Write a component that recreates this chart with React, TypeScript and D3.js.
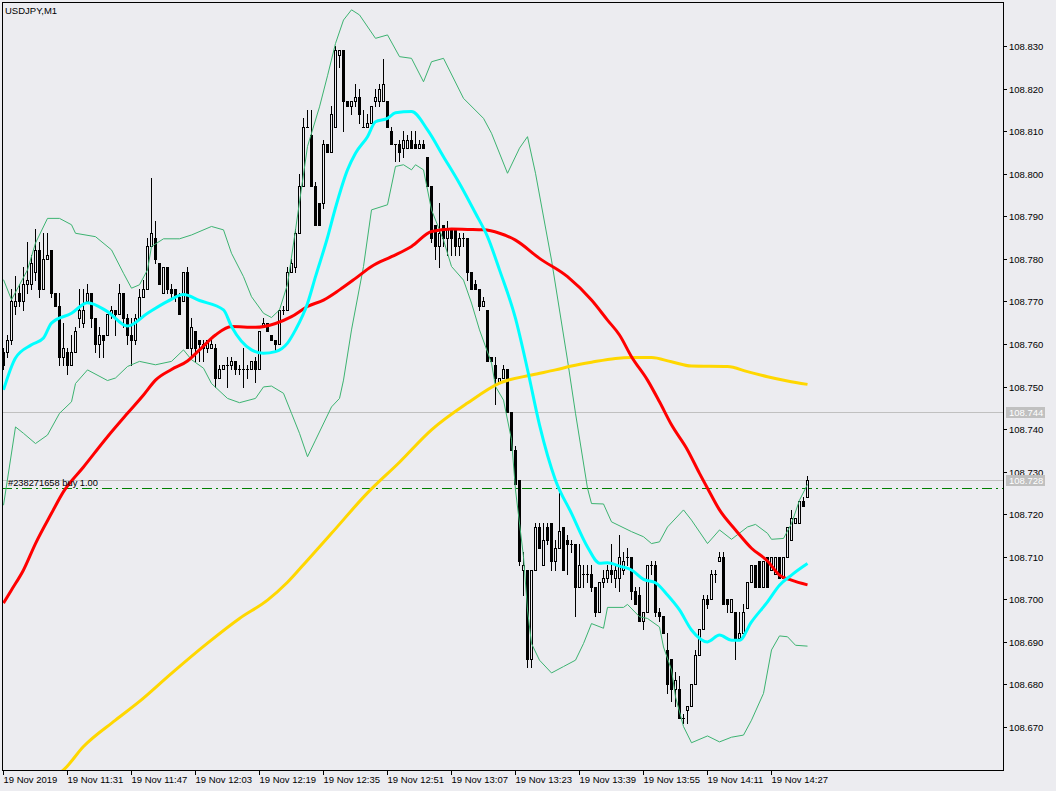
import React, { useEffect, useRef } from 'react';
import * as d3 from 'd3';

// USDJPY M1, 19 Nov 2019, bars from 11:15 to 14:36
const opens = [
  108.758, 108.758, 108.761, 108.769, 108.772, 108.770, 108.774, 108.774, 108.777, 108.782,
  108.773, 108.780, 108.782, 108.772, 108.769, 108.757, 108.758, 108.755, 108.758, 108.766,
  108.765, 108.770, 108.772, 108.766, 108.760, 108.762, 108.762, 108.767, 108.768, 108.767,
  108.772, 108.766, 108.762, 108.761, 108.766, 108.771, 108.773, 108.783, 108.785, 108.779,
  108.772, 108.778, 108.773, 108.773, 108.771, 108.770, 108.777, 108.759, 108.763, 108.761,
  108.760, 108.759, 108.759, 108.759, 108.752, 108.754, 108.755, 108.755, 108.756, 108.754,
  108.754, 108.754, 108.754, 108.756, 108.754, 108.764, 108.765, 108.762, 108.761, 108.760,
  108.768, 108.768, 108.777, 108.778, 108.786, 108.797, 108.811, 108.809, 108.797, 108.793,
  108.793, 108.807, 108.805, 108.811, 108.828, 108.829, 108.817, 108.816, 108.817, 108.818,
  108.811, 108.811, 108.812, 108.817, 108.817, 108.817, 108.817, 108.810, 108.807, 108.807,
  108.806, 108.806, 108.808, 108.807, 108.806, 108.807, 108.804, 108.797, 108.788, 108.783,
  108.788, 108.785, 108.787, 108.787, 108.783, 108.785, 108.785, 108.777, 108.774, 108.773,
  108.769, 108.768, 108.757, 108.755, 108.751, 108.752, 108.754, 108.744, 108.735, 108.728,
  108.707, 108.707, 108.686, 108.707, 108.717, 108.708, 108.717, 108.718, 108.709, 108.712,
  108.717, 108.714, 108.713, 108.713, 108.703, 108.706, 108.706, 108.706, 108.703, 108.697,
  108.704, 108.705, 108.707, 108.705, 108.705, 108.707, 108.710, 108.710, 108.702, 108.701,
  108.695, 108.697, 108.708, 108.708, 108.697, 108.696, 108.688, 108.686, 108.679, 108.679,
  108.672, 108.674, 108.675, 108.680, 108.687, 108.693, 108.700, 108.700, 108.706, 108.709,
  108.710, 108.700, 108.697, 108.697, 108.691, 108.692, 108.698, 108.704, 108.708, 108.709,
  108.703, 108.710, 108.707, 108.706, 108.710, 108.705, 108.710, 108.714, 108.718, 108.718,
  108.723, 108.724,
];
const highs = [
  108.759, 108.762, 108.773, 108.776, 108.774, 108.778, 108.784, 108.781, 108.787, 108.784,
  108.786, 108.786, 108.782, 108.772, 108.772, 108.765, 108.759, 108.762, 108.764, 108.773,
  108.773, 108.774, 108.772, 108.766, 108.764, 108.762, 108.767, 108.769, 108.768, 108.774,
  108.772, 108.767, 108.766, 108.767, 108.773, 108.775, 108.785, 108.799, 108.789, 108.779,
  108.778, 108.778, 108.774, 108.773, 108.772, 108.777, 108.778, 108.766, 108.763, 108.761,
  108.761, 108.761, 108.761, 108.760, 108.755, 108.755, 108.757, 108.757, 108.756, 108.755,
  108.759, 108.755, 108.756, 108.757, 108.763, 108.766, 108.765, 108.762, 108.761, 108.768,
  108.769, 108.778, 108.780, 108.787, 108.800, 108.813, 108.815, 108.815, 108.798, 108.793,
  108.808, 108.807, 108.816, 108.830, 108.829, 108.829, 108.817, 108.817, 108.821, 108.820,
  108.815, 108.814, 108.816, 108.820, 108.821, 108.827, 108.817, 108.811, 108.807, 108.808,
  108.810, 108.809, 108.810, 108.810, 108.808, 108.808, 108.804, 108.797, 108.788, 108.793,
  108.788, 108.789, 108.787, 108.787, 108.786, 108.786, 108.785, 108.777, 108.775, 108.773,
  108.771, 108.768, 108.757, 108.757, 108.752, 108.755, 108.754, 108.744, 108.736, 108.728,
  108.711, 108.707, 108.707, 108.718, 108.718, 108.718, 108.718, 108.718, 108.714, 108.725,
  108.717, 108.715, 108.714, 108.713, 108.713, 108.708, 108.708, 108.708, 108.703, 108.704,
  108.707, 108.708, 108.713, 108.708, 108.715, 108.711, 108.712, 108.710, 108.703, 108.703,
  108.697, 108.708, 108.709, 108.709, 108.698, 108.696, 108.692, 108.686, 108.683, 108.682,
  108.673, 108.675, 108.680, 108.688, 108.693, 108.701, 108.701, 108.707, 108.707, 108.711,
  108.711, 108.700, 108.700, 108.697, 108.697, 108.699, 108.704, 108.708, 108.708, 108.709,
  108.709, 108.710, 108.710, 108.710, 108.710, 108.710, 108.717, 108.721, 108.719, 108.723,
  108.724, 108.729,
];
const lows = [
  108.754, 108.757, 108.760, 108.767, 108.769, 108.768, 108.772, 108.773, 108.775, 108.771,
  108.773, 108.780, 108.771, 108.769, 108.755, 108.755, 108.753, 108.755, 108.758, 108.764,
  108.764, 108.770, 108.764, 108.758, 108.757, 108.757, 108.762, 108.766, 108.762, 108.767,
  108.764, 108.760, 108.755, 108.760, 108.766, 108.771, 108.773, 108.783, 108.779, 108.774,
  108.772, 108.772, 108.771, 108.770, 108.767, 108.770, 108.759, 108.757, 108.756, 108.756,
  108.756, 108.758, 108.759, 108.750, 108.752, 108.754, 108.750, 108.754, 108.753, 108.753,
  108.750, 108.752, 108.754, 108.751, 108.754, 108.764, 108.763, 108.761, 108.758, 108.760,
  108.767, 108.768, 108.777, 108.777, 108.786, 108.797, 108.811, 108.797, 108.788, 108.788,
  108.792, 108.805, 108.805, 108.811, 108.825, 108.810, 108.816, 108.814, 108.816, 108.812,
  108.811, 108.811, 108.812, 108.816, 108.816, 108.817, 108.811, 108.807, 108.803, 108.803,
  108.804, 108.806, 108.806, 108.806, 108.806, 108.806, 108.797, 108.784, 108.780, 108.778,
  108.783, 108.781, 108.781, 108.781, 108.781, 108.783, 108.775, 108.773, 108.773, 108.768,
  108.769, 108.756, 108.756, 108.746, 108.751, 108.752, 108.744, 108.735, 108.727, 108.708,
  108.701, 108.684, 108.684, 108.707, 108.712, 108.708, 108.713, 108.707, 108.707, 108.712,
  108.707, 108.706, 108.711, 108.696, 108.703, 108.703, 108.704, 108.702, 108.696, 108.697,
  108.703, 108.704, 108.704, 108.703, 108.702, 108.706, 108.708, 108.700, 108.699, 108.695,
  108.693, 108.697, 108.706, 108.696, 108.695, 108.692, 108.678, 108.676, 108.675, 108.672,
  108.671, 108.671, 108.675, 108.680, 108.687, 108.693, 108.698, 108.700, 108.704, 108.709,
  108.699, 108.697, 108.697, 108.686, 108.691, 108.692, 108.698, 108.704, 108.703, 108.703,
  108.703, 108.703, 108.707, 108.706, 108.705, 108.705, 108.710, 108.714, 108.718, 108.718,
  108.722, 108.724,
];
const closes = [
  108.755, 108.761, 108.770, 108.770, 108.770, 108.774, 108.775, 108.779, 108.782, 108.773,
  108.780, 108.781, 108.772, 108.769, 108.757, 108.759, 108.755, 108.758, 108.763, 108.768,
  108.768, 108.772, 108.766, 108.760, 108.762, 108.761, 108.767, 108.768, 108.767, 108.772,
  108.766, 108.762, 108.761, 108.766, 108.771, 108.773, 108.783, 108.786, 108.780, 108.774,
  108.778, 108.773, 108.772, 108.771, 108.767, 108.777, 108.759, 108.764, 108.759, 108.760,
  108.759, 108.761, 108.760, 108.752, 108.754, 108.755, 108.755, 108.756, 108.754, 108.754,
  108.754, 108.754, 108.756, 108.754, 108.763, 108.765, 108.763, 108.761, 108.760, 108.768,
  108.768, 108.777, 108.779, 108.786, 108.797, 108.811, 108.811, 108.797, 108.788, 108.788,
  108.807, 108.805, 108.814, 108.829, 108.829, 108.817, 108.816, 108.817, 108.818, 108.814,
  108.811, 108.812, 108.816, 108.818, 108.820, 108.821, 108.811, 108.807, 108.807, 108.805,
  108.808, 108.808, 108.806, 108.806, 108.807, 108.806, 108.797, 108.785, 108.783, 108.786,
  108.785, 108.787, 108.785, 108.783, 108.785, 108.785, 108.777, 108.773, 108.773, 108.769,
  108.770, 108.756, 108.756, 108.752, 108.752, 108.754, 108.744, 108.735, 108.727, 108.709,
  108.708, 108.686, 108.707, 108.717, 108.712, 108.714, 108.714, 108.709, 108.712, 108.716,
  108.707, 108.713, 108.713, 108.703, 108.708, 108.706, 108.706, 108.703, 108.697, 108.704,
  108.705, 108.707, 108.706, 108.707, 108.710, 108.709, 108.710, 108.702, 108.699, 108.695,
  108.697, 108.708, 108.708, 108.697, 108.696, 108.692, 108.680, 108.679, 108.681, 108.672,
  108.672, 108.675, 108.680, 108.687, 108.693, 108.700, 108.699, 108.706, 108.706, 108.710,
  108.699, 108.699, 108.700, 108.691, 108.692, 108.697, 108.704, 108.708, 108.703, 108.703,
  108.709, 108.703, 108.710, 108.710, 108.705, 108.710, 108.717, 108.719, 108.719, 108.723,
  108.722, 108.728,
];

// indicator readings, [bar index] -> value
const fastMaBars = [0, 3, 7, 10, 12, 17, 21, 26, 31, 36, 41, 45, 49, 55, 57, 62, 65, 68, 71, 73, 76, 78, 81, 83, 86, 88, 91, 93, 96, 98, 102, 106, 110, 114, 118, 121, 124, 128, 131, 134, 138, 142, 146, 149, 151, 154, 157, 160, 163, 166, 169, 172, 176, 179, 182, 184, 187, 191, 194, 197, 201];
const fastMaVals = [108.7492, 108.7567, 108.7598, 108.7614, 108.7649, 108.7672, 108.7697, 108.7676, 108.7642, 108.7672, 108.7700, 108.7716, 108.7702, 108.7680, 108.7641, 108.7586, 108.7578, 108.7582, 108.7602, 108.7633, 108.7695, 108.7758, 108.7850, 108.7920, 108.8009, 108.8048, 108.8087, 108.8122, 108.8130, 108.8143, 108.8146, 108.8103, 108.8040, 108.7977, 108.7907, 108.7852, 108.7774, 108.7660, 108.7540, 108.7410, 108.7280, 108.7202, 108.7123, 108.7085, 108.7086, 108.7078, 108.7069, 108.7047, 108.7039, 108.7010, 108.6975, 108.6928, 108.6900, 108.6916, 108.6904, 108.6904, 108.6947, 108.6994, 108.7033, 108.7057, 108.7084];

const midMaBars = [0, 2, 5, 8, 12, 15, 20, 26, 31, 35, 38, 42, 46, 49, 53, 57, 63, 68, 72, 76, 80, 84, 88, 92, 97, 102, 107, 112, 116, 120, 124, 128, 134, 141, 147, 151, 154, 157, 161, 164, 167, 171, 174, 176, 179, 183, 187, 191, 194, 197, 201];
const midMaVals = [108.6991, 108.7022, 108.7069, 108.7131, 108.7202, 108.7253, 108.7311, 108.7382, 108.7437, 108.7480, 108.7515, 108.7540, 108.7560, 108.7586, 108.7621, 108.7641, 108.7639, 108.7648, 108.7664, 108.7688, 108.7703, 108.7727, 108.7754, 108.7782, 108.7805, 108.7829, 108.7864, 108.7870, 108.7869, 108.7868, 108.7860, 108.7844, 108.7801, 108.7758, 108.7703, 108.7656, 108.7621, 108.7570, 108.7515, 108.7464, 108.7410, 108.7351, 108.7296, 108.7261, 108.7210, 108.7163, 108.7120, 108.7090, 108.7057, 108.7045, 108.7034];

const slowMaBars = [13, 15, 20, 28, 34, 42, 51, 59, 66, 71, 76, 82, 91, 99, 107, 116, 124, 132, 138, 142, 147, 153, 157, 162, 167, 172, 181, 186, 191, 196, 201];
const slowMaVals = [108.6585, 108.6599, 108.6654, 108.6716, 108.6760, 108.6826, 108.6897, 108.6955, 108.6998, 108.7040, 108.7092, 108.7155, 108.7250, 108.7322, 108.7398, 108.7461, 108.7508, 108.7527, 108.7539, 108.7548, 108.7557, 108.7566, 108.7568, 108.7568, 108.7558, 108.7548, 108.7547, 108.7535, 108.7523, 108.7513, 108.7505];

const upperBandBars = [0, 2, 6, 8, 11, 14, 17, 18, 23, 27, 30, 32, 34, 36, 37, 40, 44, 47, 52, 55, 57, 60, 62, 65, 67, 69, 71, 73, 76, 79, 81, 83, 85, 87, 89, 93, 96, 99, 102, 105, 107, 110, 115, 120, 122, 126, 129, 131, 133, 137, 141, 143, 146, 147, 150, 152, 157, 160, 162, 164, 166, 170, 172, 176, 179, 182, 186, 188, 191, 192, 195, 197, 199, 201];
const upperBandVals = [108.7751, 108.7704, 108.7774, 108.7837, 108.7895, 108.7895, 108.7880, 108.7860, 108.7852, 108.7821, 108.7766, 108.7731, 108.7739, 108.7774, 108.7829, 108.7847, 108.7847, 108.7856, 108.7876, 108.7868, 108.7813, 108.7758, 108.7711, 108.7672, 108.7662, 108.7680, 108.7740, 108.7868, 108.8064, 108.8157, 108.8230, 108.8306, 108.8361, 108.8385, 108.8373, 108.8318, 108.8326, 108.8275, 108.8271, 108.8216, 108.8263, 108.8271, 108.8177, 108.8130, 108.8095, 108.8001, 108.8060, 108.8087, 108.8001, 108.7797, 108.7562, 108.7437, 108.7261, 108.7225, 108.7224, 108.7182, 108.7159, 108.7147, 108.7131, 108.7135, 108.7170, 108.7210, 108.7186, 108.7131, 108.7163, 108.7141, 108.7170, 108.7176, 108.7155, 108.7141, 108.7143, 108.7178, 108.7233, 108.7270];

const lowerBandBars = [0, 3, 5, 8, 11, 14, 17, 18, 21, 26, 28, 31, 34, 38, 42, 45, 47, 50, 52, 56, 59, 63, 65, 67, 70, 72, 74, 76, 78, 82, 84, 85, 87, 90, 92, 96, 98, 100, 102, 103, 105, 107, 110, 112, 115, 117, 119, 122, 123, 125, 127, 128, 130, 131, 132, 134, 137, 140, 143, 145, 147, 150, 151, 155, 156, 159, 161, 164, 165, 167, 168, 170, 172, 176, 179, 182, 185, 187, 190, 192, 194, 196, 198, 201];
const lowerBandVals = [108.7221, 108.7405, 108.7390, 108.7366, 108.7386, 108.7437, 108.7464, 108.7507, 108.7539, 108.7514, 108.7520, 108.7547, 108.7559, 108.7551, 108.7559, 108.7586, 108.7563, 108.7543, 108.7507, 108.7472, 108.7462, 108.7472, 108.7499, 108.7501, 108.7484, 108.7437, 108.7390, 108.7335, 108.7374, 108.7452, 108.7472, 108.7515, 108.7633, 108.7782, 108.7915, 108.7927, 108.8017, 108.8021, 108.8009, 108.8021, 108.8009, 108.7915, 108.7844, 108.7782, 108.7750, 108.7696, 108.7633, 108.7555, 108.7500, 108.7468, 108.7375, 108.7257, 108.7100, 108.6975, 108.6896, 108.6857, 108.6827, 108.6842, 108.6857, 108.6896, 108.6943, 108.6932, 108.6981, 108.6981, 108.6988, 108.6959, 108.6955, 108.6935, 108.6888, 108.6834, 108.6771, 108.6701, 108.6663, 108.6679, 108.6665, 108.6676, 108.6681, 108.6716, 108.6779, 108.6881, 108.6914, 108.6912, 108.6892, 108.6890];

const priceTicks = [108.67, 108.68, 108.69, 108.70, 108.71, 108.72, 108.73, 108.74, 108.75, 108.76, 108.77, 108.78, 108.79, 108.80, 108.81, 108.82, 108.83];
const timeLabels = ['19 Nov 2019', '19 Nov 11:31', '19 Nov 11:47', '19 Nov 12:03', '19 Nov 12:19', '19 Nov 12:35', '19 Nov 12:51', '19 Nov 13:07', '19 Nov 13:23', '19 Nov 13:39', '19 Nov 13:55', '19 Nov 14:11', '19 Nov 14:27'];
const barsPerLabel = 16;
const markedPrices = [108.744, 108.728];
const orderPrice = 108.7261;
const orderText = '#238271658 buy 1.00';
const title = 'USDJPY,M1';

const W = 1056, H = 791;
const L = 2, T = 2, R = 1003, B = 770;
const BG = '#ececf0';
const FONT = '"Liberation Sans", Arial, sans-serif';

export default function App() {
  const svgRef = useRef<SVGSVGElement>(null);

  function draw(elm: SVGSVGElement) {
    const svg = d3.select(elm);
    svg.selectAll('*').remove();

    const x = d3.scaleLinear().domain([0, 1]).range([3.5, 7.5]);
    const y = d3.scaleLinear().domain([108.67, 108.83]).range([727, 46]);
    const py = (p: number) => Math.round(y(p));
    const fmt = d3.format('.3f');

    svg.append('rect').attr('width', W).attr('height', H).attr('fill', BG);

    svg.append('defs').append('clipPath').attr('id', 'plotclip')
      .append('rect').attr('x', L + 1).attr('y', T + 1).attr('width', R - L - 1).attr('height', B - T - 1);

    const plot = svg.append('g').attr('clip-path', 'url(#plotclip)');

    // grey price lines
    markedPrices.forEach(p => {
      plot.append('line')
        .attr('x1', L).attr('x2', R)
        .attr('y1', py(p) + 0.5).attr('y2', py(p) + 0.5)
        .attr('stroke', '#c0c0c0').attr('shape-rendering', 'crispEdges');
    });

    // order line
    plot.append('line')
      .attr('x1', L).attr('x2', R)
      .attr('y1', py(orderPrice) + 0.5).attr('y2', py(orderPrice) + 0.5)
      .attr('stroke', '#008000').attr('stroke-dasharray', '10,4,2,4')
      .attr('shape-rendering', 'crispEdges');

    // candles
    const cg = plot.append('g').attr('shape-rendering', 'crispEdges');
    d3.range(opens.length).forEach(i => {
      const cx = x(i);
      cg.append('line')
        .attr('x1', cx).attr('x2', cx)
        .attr('y1', py(highs[i])).attr('y2', py(lows[i]) + 1)
        .attr('stroke', '#000');
      const yo = py(opens[i]), yc = py(closes[i]);
      if (yc < yo) {
        cg.append('rect')
          .attr('x', cx - 1).attr('y', yc + 0.5)
          .attr('width', 2).attr('height', yo - yc)
          .attr('fill', BG).attr('stroke', '#000');
      } else if (yc > yo) {
        cg.append('rect')
          .attr('x', cx - 1.5).attr('y', yo)
          .attr('width', 3).attr('height', yc - yo + 1)
          .attr('fill', '#000');
      } else {
        cg.append('line')
          .attr('x1', cx - 1.5).attr('x2', cx + 1.5)
          .attr('y1', yo + 0.5).attr('y2', yo + 0.5)
          .attr('stroke', '#000');
      }
    });

    // bollinger bands
    const bandLine = d3.line<[number, number]>().x(d => x(d[0])).y(d => y(d[1]));
    [[upperBandBars, upperBandVals], [lowerBandBars, lowerBandVals]].forEach(([b, v]) => {
      plot.append('path')
        .attr('d', bandLine(d3.zip(b, v) as [number, number][]))
        .attr('fill', 'none').attr('stroke', '#3cb371').attr('stroke-width', 1);
    });

    // moving averages
    const maLine = d3.line<[number, number]>().x(d => x(d[0])).y(d => y(d[1])).curve(d3.curveMonotoneX);
    const mas: [number[], number[], string][] = [
      [slowMaBars, slowMaVals, '#ffd700'],
      [midMaBars, midMaVals, '#ff0000'],
      [fastMaBars, fastMaVals, '#00ffff'],
    ];
    mas.forEach(([b, v, c]) => {
      plot.append('path')
        .attr('d', maLine(d3.zip(b, v) as [number, number][]))
        .attr('fill', 'none').attr('stroke', c).attr('stroke-width', 3)
        .attr('stroke-linejoin', 'round');
    });

    // order label
    svg.append('text')
      .attr('x', 8).attr('y', py(orderPrice) - 2)
      .attr('font-family', FONT).attr('font-size', '9.3px').attr('fill', '#000')
      .text(orderText);

    // frame
    svg.append('rect')
      .attr('x', L + 0.5).attr('y', T + 0.5)
      .attr('width', R - L).attr('height', B - T)
      .attr('fill', 'none').attr('stroke', '#000').attr('shape-rendering', 'crispEdges');

    // price axis
    const pa = svg.append('g').attr('font-family', FONT).attr('font-size', '9.5px');
    priceTicks.forEach(p => {
      const yy = py(p) + 0.5;
      pa.append('line').attr('x1', R).attr('x2', R + 4).attr('y1', yy).attr('y2', yy)
        .attr('stroke', '#000').attr('shape-rendering', 'crispEdges');
      pa.append('text').attr('x', R + 6).attr('y', yy + 3.5).attr('fill', '#000').text(fmt(p));
    });
    markedPrices.forEach(p => {
      const yy = py(p) + 0.5;
      pa.append('rect').attr('x', R + 3).attr('y', yy - 5.5).attr('width', 39).attr('height', 11)
        .attr('fill', '#c0c0c0');
      pa.append('text').attr('x', R + 6).attr('y', yy + 3.5).attr('fill', '#fff').text(fmt(p));
    });

    // time axis
    const ta = svg.append('g').attr('font-family', FONT).attr('font-size', '9.5px');
    timeLabels.forEach((t, k) => {
      const xx = x(k * barsPerLabel);
      ta.append('line').attr('x1', xx).attr('x2', xx).attr('y1', B).attr('y2', B + 5)
        .attr('stroke', '#000').attr('shape-rendering', 'crispEdges');
      ta.append('text').attr('x', xx).attr('y', B + 13).attr('fill', '#000').text(t);
    });

    // title
    svg.append('text')
      .attr('x', 5).attr('y', 14)
      .attr('font-family', FONT).attr('font-size', '9.5px').attr('fill', '#000')
      .text(title);
  }

  useEffect(() => {
    if (svgRef.current) {
      draw(svgRef.current);
    }
  }, []);

  return (
    <svg
      ref={svgRef}
      width={W}
      height={H}
      style={{ position: 'absolute', left: 0, top: 0, display: 'block' }}
    />
  );
}
